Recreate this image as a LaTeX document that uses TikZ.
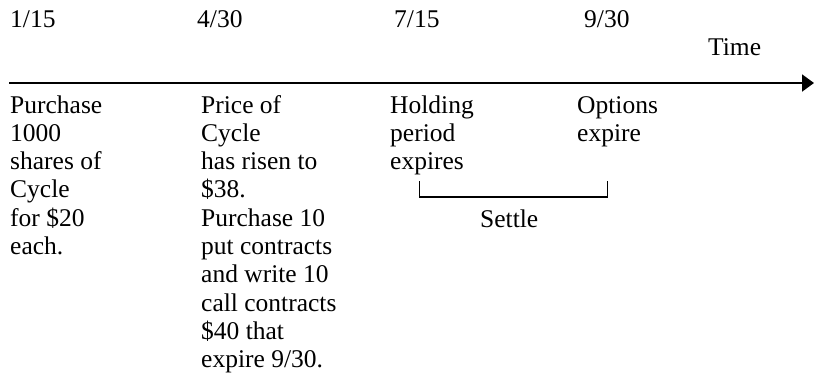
\documentclass[tikz,border=0pt]{standalone}
\usepackage{fontspec}
\setmainfont{Liberation Serif}
\usetikzlibrary{arrows.meta}
\tikzset{
    datelabel/.style={anchor=base west,inner sep=0pt},
    eventtext/.style={anchor=base west,inner sep=0pt,align=left},
}

\begin{document}
\begin{tikzpicture}[x=1pt,y=-1pt,font=\fontsize{25.5}{28.3}\selectfont]
    \useasboundingbox (0,0) rectangle (814,373);
    % dates above the axis
    \node[datelabel] (d115) at (10,27) {1/15};
    \node[datelabel] (d430) at (197,27) {4/30};
    \node[datelabel] (d715) at (394,27) {7/15};
    \node[datelabel] (d930) at (584,27) {9/30};
    \node[datelabel] (time) at (708,55) {Time};
    % time axis
    \coordinate (axisL) at (9,83);
    \coordinate (axisR) at (814,83);
    \draw[line width=2pt,-{Triangle[length=12pt,width=17pt]}] (axisL) -- (axisR);
    % events below the axis (placed by the baseline of their last line)
    \node[eventtext] (ev115) at (10,254.5) {Purchase\\1000\\shares of\\Cycle\\for \$20\\each.};
    \node[eventtext] (ev430) at (201,367.7) {Price of\\Cycle\\has risen to\\\$38.\\Purchase 10\\put contracts\\and write 10\\call contracts\\\$40 that\\expire 9/30.};
    \node[eventtext] (evhold) at (390,169.6) {Holding\\period\\expires};
    \node[eventtext] (evopt) at (577,141.3) {Options\\expire};
    % settlement bracket
    \coordinate (brL) at (419.5,181);
    \coordinate (brR) at (607.5,181);
    \draw[line width=1.3pt] (brL) -- ++(0,16) -| (brR);
    \node[datelabel] (settle) at (480,227) {Settle};
\end{tikzpicture}
\end{document}
